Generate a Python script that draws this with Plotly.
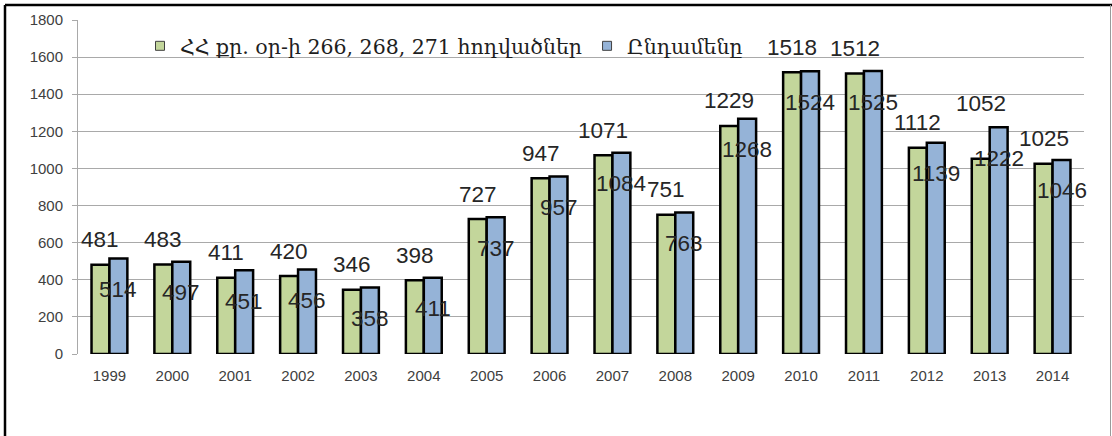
import plotly.graph_objects as go

# Data
years = ["1999", "2000", "2001", "2002", "2003", "2004", "2005", "2006",
         "2007", "2008", "2009", "2010", "2011", "2012", "2013", "2014"]
articles = [481, 483, 411, 420, 346, 398, 727, 947, 1071, 751, 1229, 1518, 1512, 1112, 1052, 1025]
total = [514, 497, 451, 456, 358, 411, 737, 957, 1084, 763, 1268, 1524, 1525, 1139, 1222, 1046]
series_names = ["ՀՀ քր. օր-ի 266, 268, 271 հոդվածներ", "Ընդամենը"]

GREEN = "#c3d69b"
BLUE = "#95b3d7"

W, H = 1112, 436
ML, MR, MT, MB = 78, 28, 20, 82


def px_x(px):
    return (px - ML) / (W - ML - MR)


def px_y(py):
    return (H - MB - py) / (H - MT - MB)


fig = go.Figure()
for vals, color in ((articles, GREEN), (total, BLUE)):
    fig.add_trace(go.Bar(
        x=years, y=vals,
        marker=dict(color=color, line=dict(color="#000000", width=2.5)),
        showlegend=False, hoverinfo="x+y",
    ))

# legend entries as small squares, like the Excel legend keys
for name, color in zip(series_names, (GREEN, BLUE)):
    fig.add_trace(go.Scatter(
        x=[years[0]], y=[None], mode="markers", name=name,
        marker=dict(symbol="square", size=9, color=color,
                    line=dict(color="#404040", width=1)),
    ))

# data labels: first series above its bar, second series sunk into its bar
# (annotation x is the category index so it does not stretch the axis)
label_font = dict(family="Liberation Sans, Arial", size=22.5, color="#262626")
green_shift = {"2013": 55}
for i, (yr, a, t) in enumerate(zip(years, articles, total)):
    fig.add_annotation(x=i, y=a, text=str(a), showarrow=False, xshift=-9,
                       yshift=green_shift.get(yr, 25), font=label_font)
    fig.add_annotation(x=i, y=t, text=str(t), showarrow=False, xshift=9,
                       yshift=-31, font=label_font)

# outer frame of the pasted chart
fig.add_shape(type="line", xref="paper", yref="paper",
              x0=px_x(5), x1=px_x(W), y0=px_y(5), y1=px_y(5),
              line=dict(color="#000000", width=2.5))
fig.add_shape(type="line", xref="paper", yref="paper",
              x0=px_x(5), x1=px_x(5), y0=px_y(5), y1=px_y(H),
              line=dict(color="#000000", width=2.5))
fig.add_shape(type="line", xref="paper", yref="paper",
              x0=px_x(1110.5), x1=px_x(1110.5), y0=px_y(5), y1=px_y(H),
              line=dict(color="#9a9a9a", width=1))

fig.update_layout(
    width=W, height=H,
    margin=dict(l=ML, r=MR, t=MT, b=MB),
    paper_bgcolor="white", plot_bgcolor="white",
    barmode="group", bargap=0.43, bargroupgap=0,
    font=dict(family="Liberation Sans, Arial", size=15, color="#404040"),
    legend=dict(
        orientation="h", x=px_x(140), y=px_y(46), xanchor="left", yanchor="middle",
        bgcolor="rgba(0,0,0,0)", font=dict(family="DejaVu Serif", size=20.5, color="#1e1e1e"),
        itemwidth=30, tracegroupgap=0,
    ),
    xaxis=dict(type="category", range=[-0.5, len(years) - 0.5], showgrid=False,
               showline=False, ticks="", ticklabelstandoff=11,
               tickfont=dict(size=15, color="#404040")),
    yaxis=dict(range=[0, 1800], dtick=200, showgrid=True, gridcolor="#a9a9a9",
               gridwidth=1, zeroline=False, showline=True, linecolor="#a9a9a9",
               ticks="outside", ticklen=5, tickcolor="#a9a9a9",
               ticklabelstandoff=6, tickfont=dict(size=15, color="#404040")),
)

fig.write_html("out.html", config={"displayModeBar": False},
               post_script="document.body.style.margin='0';")
